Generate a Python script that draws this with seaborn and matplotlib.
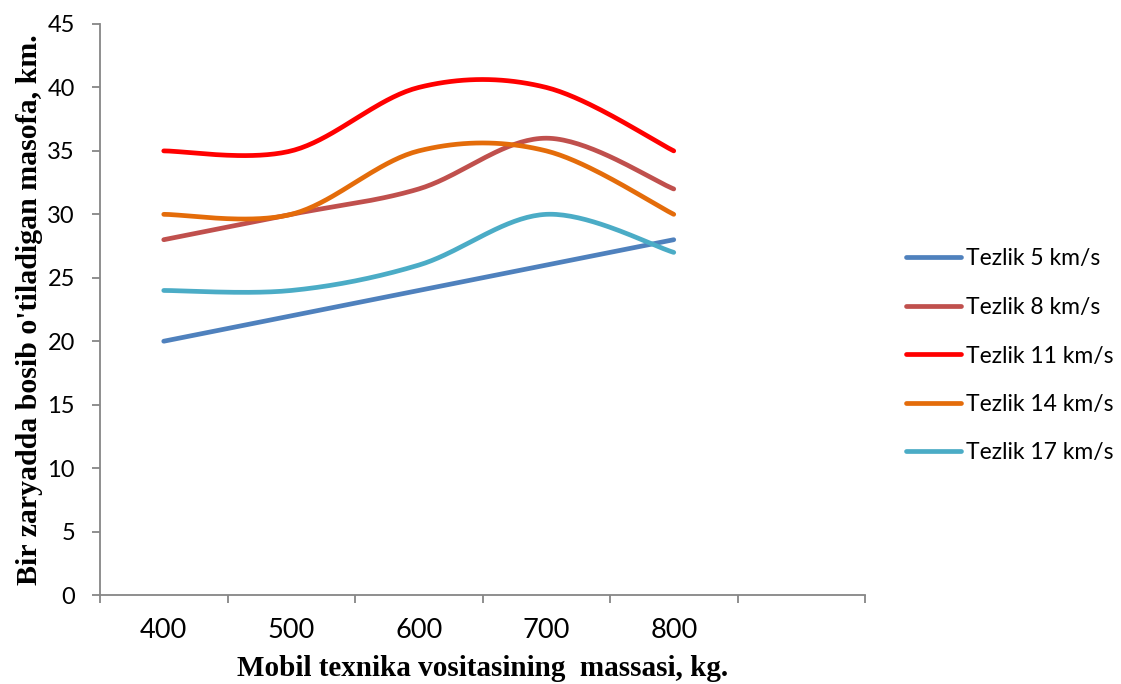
import numpy as np
import pandas as pd
import matplotlib
matplotlib.use("Agg")
import matplotlib.pyplot as plt
import seaborn as sns

# Mass categories (kg) and distance per charge (km) for each speed
masses = ["400", "500", "600", "700", "800"]
speed_5 = [20, 22, 24, 26, 28]
speed_8 = [28, 30, 32, 36, 32]
speed_11 = [35, 35, 40, 40, 35]
speed_14 = [30, 30, 35, 35, 30]
speed_17 = [24, 24, 26, 30, 27]

series_names = ["Tezlik 5 km/s", "Tezlik 8 km/s", "Tezlik 11 km/s",
                "Tezlik 14 km/s", "Tezlik 17 km/s"]
series_values = [speed_5, speed_8, speed_11, speed_14, speed_17]
colors = ["#4F81BD", "#C0504D", "#FF0000", "#E46C0A", "#4BACC6"]


def smooth(xs, ys, n=40):
    """Cardinal-spline smoothing through the points (Bezier, 1/6 handles)."""
    pts = np.column_stack([xs, ys]).astype(float)
    out = []
    m = len(pts)
    for i in range(m - 1):
        p0 = pts[max(i - 1, 0)]
        p1 = pts[i]
        p2 = pts[i + 1]
        p3 = pts[min(i + 2, m - 1)]
        c1 = p1 + (p2 - p0) / 6.0
        c2 = p2 - (p3 - p1) / 6.0
        t = np.linspace(0, 1, n, endpoint=(i == m - 2))[:, None]
        seg = ((1 - t) ** 3) * p1 + 3 * ((1 - t) ** 2) * t * c1 \
            + 3 * (1 - t) * t ** 2 * c2 + t ** 3 * p2
        out.append(seg)
    out = np.vstack(out)
    return out[:, 0], out[:, 1]


rows = []
pos = np.arange(len(masses))
for name, vals in zip(series_names, series_values):
    sx, sy = smooth(pos, vals)
    for a, b in zip(sx, sy):
        rows.append({"x": a, "y": b, "series": name})
df = pd.DataFrame(rows)

sns.set_theme(style="white")
plt.rcParams["font.family"] = ["Lato", "DejaVu Sans"]
plt.rcParams["text.color"] = "black"
plt.rcParams["xtick.color"] = "black"
plt.rcParams["ytick.color"] = "black"
plt.rcParams["axes.labelcolor"] = "black"

fig = plt.figure(figsize=(11.21, 6.84), dpi=100)
ax = fig.add_axes([100 / 1121, 1 - 595 / 684, (865 - 100) / 1121, (595 - 24) / 684])

sns.lineplot(data=df, x="x", y="y", hue="series", hue_order=series_names,
             palette=colors, sort=False, estimator=None, units="series",
             linewidth=3.4, ax=ax, solid_capstyle="round")

ax.set_xlim(-0.5, 5.5)
ax.set_ylim(0, 45)
ax.set_yticks(np.arange(0, 46, 5))
ax.set_xticks(np.arange(-0.5, 5.6, 1.0))
ax.set_xticklabels([])
ax.set_xticks(pos, minor=True)
ax.set_xticklabels(masses, minor=True)

spine_color = "#868686"
for side in ["top", "right"]:
    ax.spines[side].set_visible(False)
for side in ["left", "bottom"]:
    ax.spines[side].set_color(spine_color)
    ax.spines[side].set_linewidth(1.3)

ax.tick_params(axis="y", which="major", direction="out", length=6, width=1.3,
               color=spine_color, labelcolor="black", labelsize=17, pad=12,
               left=True)
ax.tick_params(axis="x", which="major", direction="out", length=6, width=1.3,
               color=spine_color, bottom=True)
ax.tick_params(axis="x", which="minor", length=0, labelsize=19.5,
               labelcolor="black", pad=16.5)

serif = ["Liberation Serif", "DejaVu Serif"]
ax.set_xlabel("Mobil texnika vositasining  massasi, kg.", family=serif,
              fontsize=21, fontweight="bold", labelpad=9)
ax.set_ylabel("Bir zaryadda bosib o'tiladigan masofa, km.", family=serif,
              fontsize=21.5, fontweight="bold", labelpad=3)

ax.grid(False)
leg = ax.legend(loc="center left", bbox_to_anchor=(906 / 1121, 1 - 356 / 684),
                bbox_transform=fig.transFigure, frameon=False,
                fontsize=16.5, handlelength=2.4, handletextpad=0.2,
                labelspacing=1.2, borderaxespad=0, borderpad=0)
for line in leg.get_lines():
    line.set_linewidth(3.4)
    line.set_solid_capstyle("round")

fig.savefig("out.png", dpi=100, facecolor="white")
